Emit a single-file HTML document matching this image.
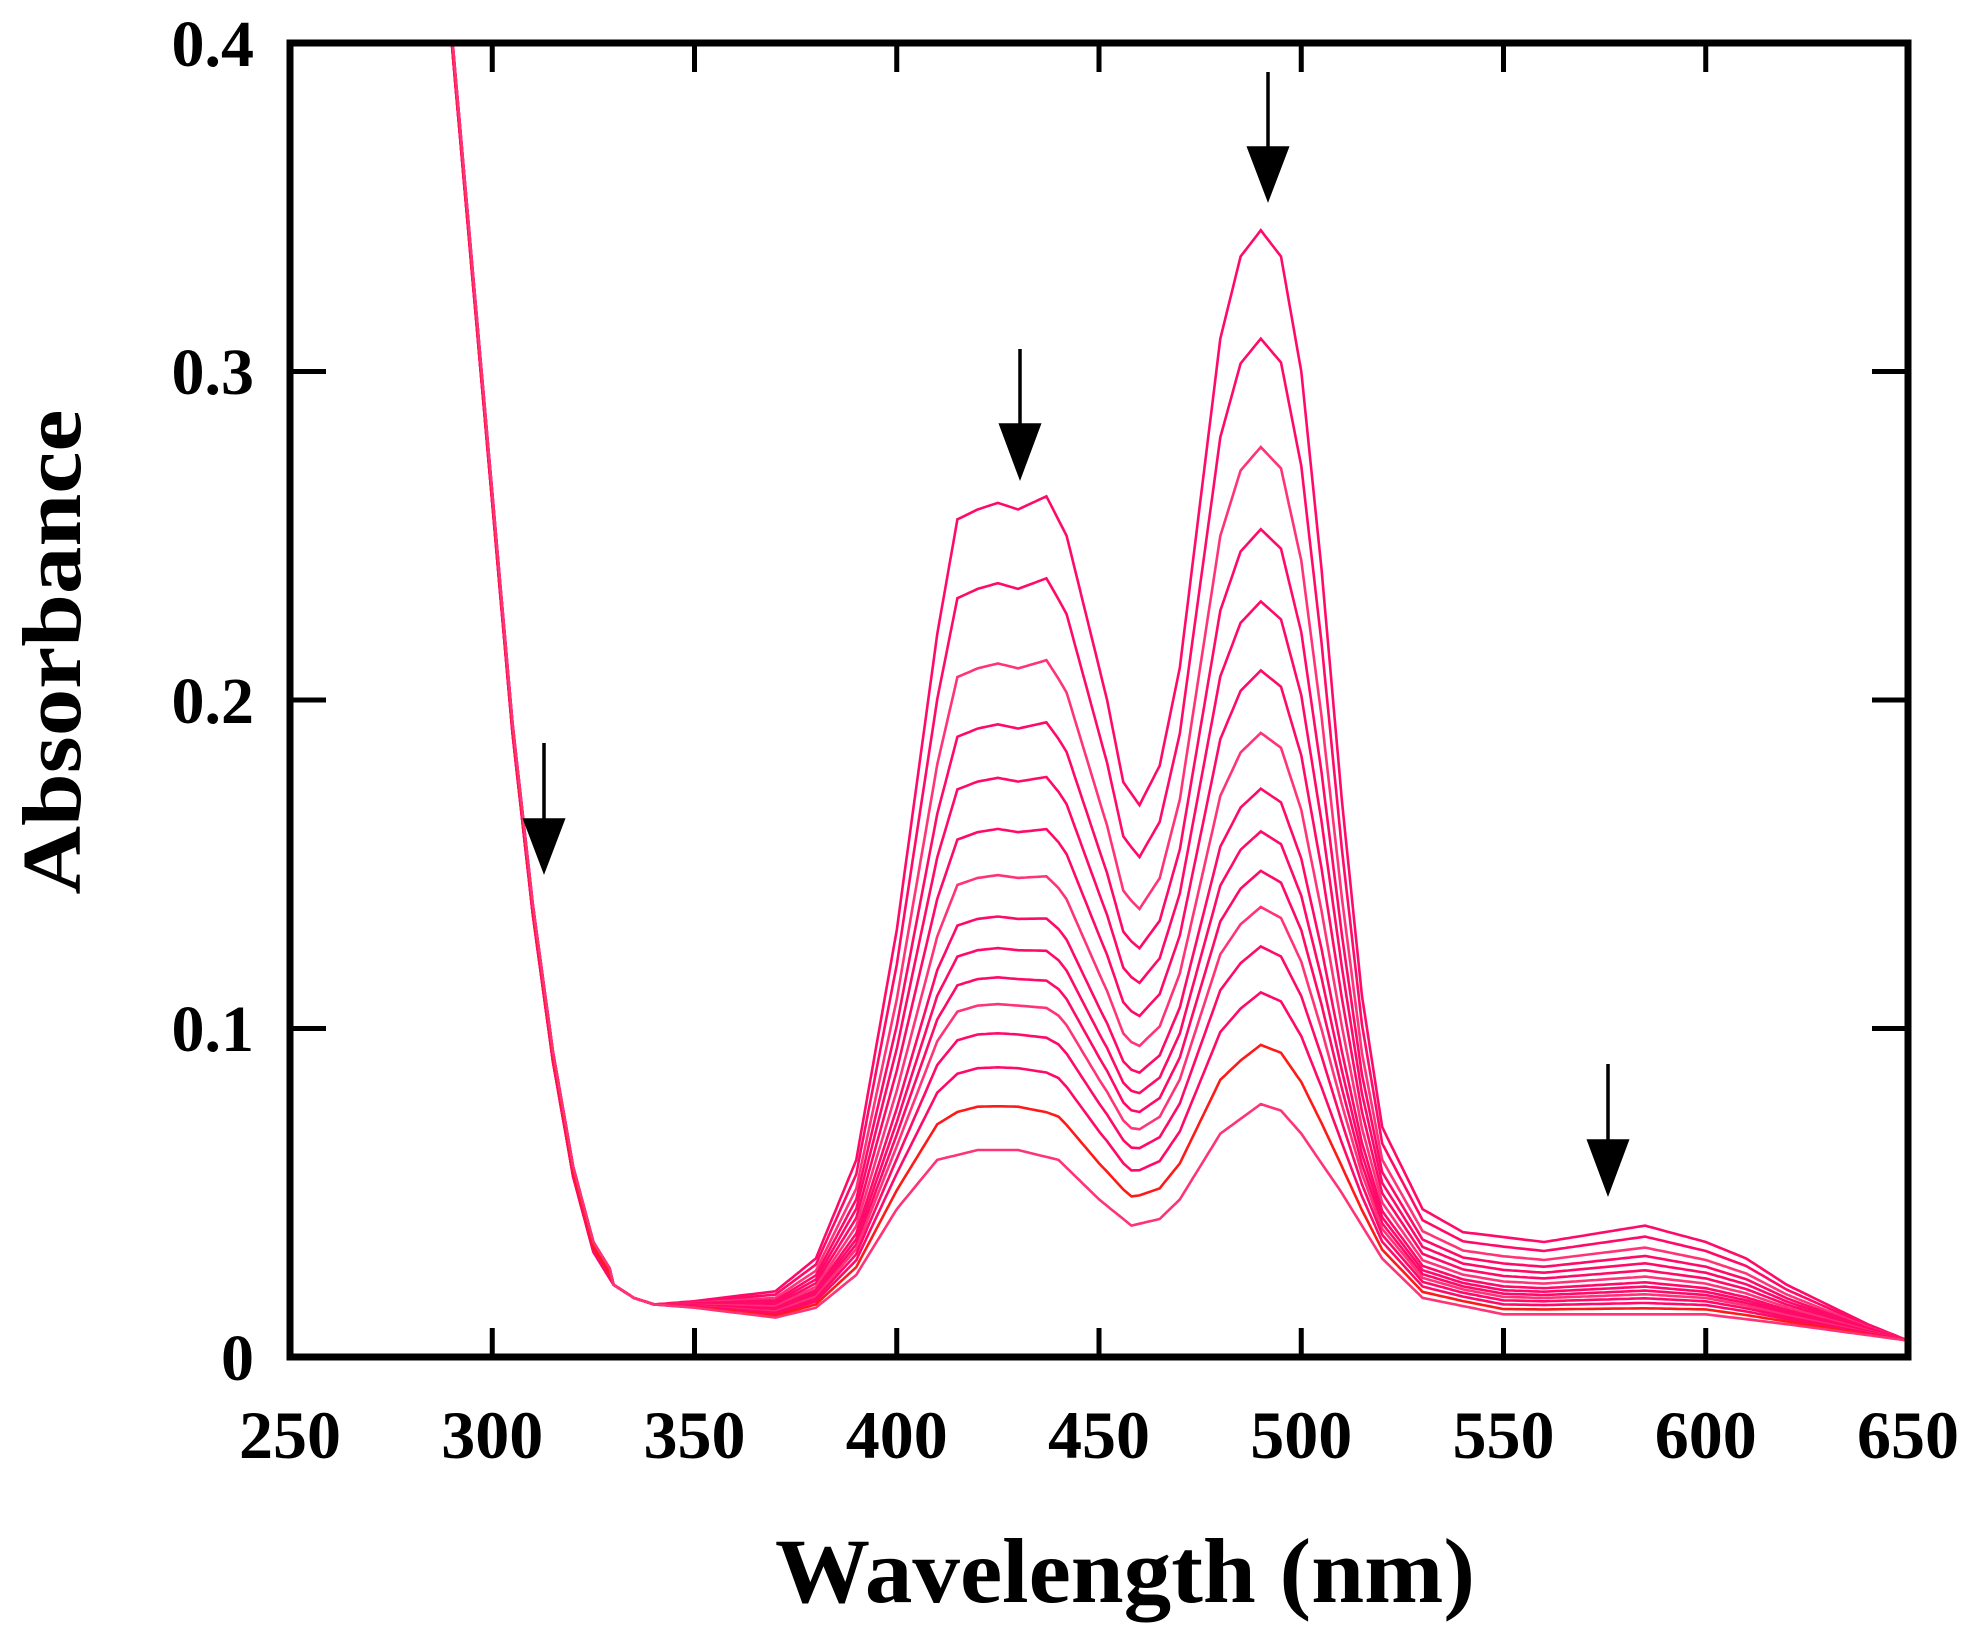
<!DOCTYPE html>
<html><head><meta charset="utf-8"><style>
html,body{margin:0;padding:0;background:#fff;}
svg{display:block;}
text{font-family:"Liberation Serif",serif;font-weight:bold;fill:#000;}
</style></head><body>
<svg id="s" width="1975" height="1645" viewBox="0 0 1975 1645" xmlns="http://www.w3.org/2000/svg">
<defs><clipPath id="c"><rect x="290" y="43" width="1618" height="1314"/></clipPath></defs>
<g id="curves" clip-path="url(#c)" fill="none" stroke-width="2.6" stroke-linejoin="miter"></g>
<rect x="290" y="43" width="1618" height="1314" fill="none" stroke="#000" stroke-width="7"/>
<g stroke="#000" stroke-width="5" id="ticks"></g>
<g font-size="66" text-anchor="end">
<text x="254" y="66">0.4</text><text x="254" y="394">0.3</text><text x="254" y="723">0.2</text><text x="254" y="1051">0.1</text><text x="254" y="1380">0</text>
</g>
<g font-size="68" text-anchor="middle" id="xl"></g>
<text x="1125" y="1602" font-size="92" text-anchor="middle" textLength="700" lengthAdjust="spacingAndGlyphs">Wavelength (nm)</text>
<text transform="translate(80,652) rotate(-90)" font-size="84" text-anchor="middle" textLength="485" lengthAdjust="spacingAndGlyphs">Absorbance</text>
<g stroke="#000" stroke-width="3.5" fill="#000">
<line x1="544" y1="743" x2="544" y2="835"/><polygon points="525,820 563,820 544,870"/>
<line x1="1020" y1="349" x2="1020" y2="440"/><polygon points="1001,425 1039,425 1020,476"/>
<line x1="1268" y1="72" x2="1268" y2="162"/><polygon points="1249,148 1287,148 1268,198"/>
<line x1="1608" y1="1064" x2="1608" y2="1155"/><polygon points="1589,1141 1627,1141 1608,1192"/>
</g>
</svg>
<script>
var NS="http://www.w3.org/2000/svg";
function X(l){return 290+(l-250)*1618/400;}
function Y(a){return 1357-a*1314/0.4;}
var t=document.getElementById('ticks'),xl=document.getElementById('xl');
for(var l=300;l<650;l+=50){var x=X(l);
 t.innerHTML+='<line x1="'+x+'" y1="1357" x2="'+x+'" y2="1328"/><line x1="'+x+'" y1="43" x2="'+x+'" y2="72"/>';}
for(var l=250;l<=650;l+=50){xl.innerHTML+='<text x="'+X(l)+'" y="1458">'+l+'</text>';}
for(var a=0.1;a<0.35;a+=0.1){var y=Y(a);
 t.innerHTML+='<line x1="290" y1="'+y+'" x2="326" y2="'+y+'"/><line x1="1908" y1="'+y+'" x2="1872" y2="'+y+'"/>';}
function interp(p,l){for(var i=0;i<p.length-1;i++){if(l>=p[i][0]&&l<=p[i+1][0]){var f=(l-p[i][0])/(p[i+1][0]-p[i][0]);return p[i][1]+f*(p[i+1][1]-p[i][1]);}}return p[p.length-1][1];}
var MX=[[340,0.016],[350,0.017],[370,0.02],[380,0.03],[390,0.06],[400,0.13],[410,0.22],[415,0.255],[420,0.258],[425,0.26],[430,0.258],[437,0.262],[442,0.25],[448,0.22],[452,0.2],[456,0.175],[460,0.168],[465,0.18],[470,0.21],[475,0.26],[480,0.31],[485,0.335],[490,0.343],[495,0.335],[500,0.3],[505,0.24],[510,0.17],[515,0.11],[520,0.07],[530,0.045],[540,0.038],[560,0.035],[585,0.04],[600,0.035],[610,0.03],[620,0.022],[640,0.01],[650,0.005]];
var MN=[[340,0.016],[350,0.015],[370,0.012],[380,0.015],[390,0.025],[400,0.045],[410,0.06],[420,0.063],[430,0.063],[440,0.06],[450,0.048],[458,0.04],[465,0.042],[470,0.048],[480,0.068],[490,0.077],[495,0.075],[500,0.068],[510,0.05],[520,0.03],[530,0.018],[550,0.013],[600,0.013],[620,0.01],[650,0.005]];
var UV=[[288,0.42],[290,0.4],[295,0.33],[300,0.26],[305,0.19],[310,0.135],[315,0.09],[320,0.055],[325,0.032],[330,0.022],[335,0.018],[340,0.016]];
var P=[0.343,0.31,0.277,0.252,0.23,0.209,0.19,0.173,0.16,0.148,0.137,0.125,0.111,0.095,0.077];
var g=document.getElementById('curves'),h='';
for(var k=0;k<P.length;k++){var s=(P[k]-0.077)/(0.343-0.077),d='';
 for(var l=288;l<=651;l+=1){var a;
  if(l<=340)a=interp(UV,l)+(k%3)*0.0015*(l<330?1:0);
  else a=interp(MN,l)+s*(interp(MX,l)-interp(MN,l));
  var x=X(l),y=Y(a);
  d+=(l==288?'M':'L')+x.toFixed(1)+' '+y.toFixed(1)+' ';}
 var col=(k==13)?'#ff1a1a':(k%4==2?'#ff3377':'#ff0a6a');
 h+='<path d="'+d+'" stroke="'+col+'"/>';}
g.innerHTML=h;
</script>
</body></html>
